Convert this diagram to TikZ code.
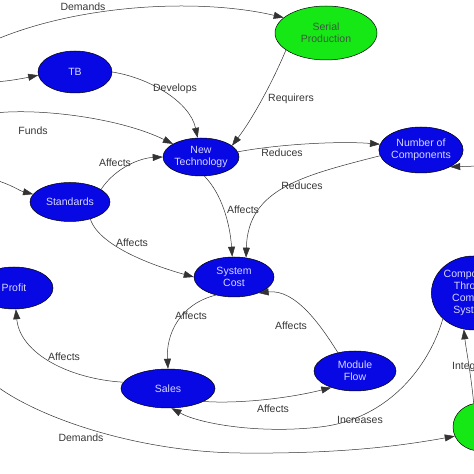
\documentclass[tikz,border=0pt]{standalone}
\usepackage{fontspec}
\setmainfont{Liberation Sans}
\usetikzlibrary{shapes.geometric,arrows.meta}
\definecolor{nblue}{RGB}{8,8,228}
\definecolor{ngreen}{RGB}{22,232,22}
\definecolor{ntext}{RGB}{215,215,255}
\definecolor{ltext}{RGB}{55,55,55}
\definecolor{gtext}{RGB}{60,90,60}
\newcommand{\nodefnt}{\fontsize{10.5}{12}\selectfont}
\newcommand{\labfnt}{\fontsize{10.5}{12}\selectfont}
\tikzset{
  bnode/.style={ellipse, draw=black, line width=0.5pt, fill=nblue, text=ntext, font=\nodefnt, align=center, inner sep=0pt},
  gnode/.style={ellipse, draw=black, line width=0.5pt, fill=ngreen, text=gtext, font=\nodefnt, align=center, inner sep=0pt},
  conn/.style={draw=black!80, line width=0.5pt, -{Triangle[length=10pt,width=7pt]}},
  lab/.style={font=\labfnt, text=ltext, inner sep=0pt}
}
\begin{document}
\begin{tikzpicture}[x=1pt,y=1pt]
\useasboundingbox (0,0) rectangle (474,474);
\clip (0,0) rectangle (474,474);
\fill[white] (0,0) rectangle (474,474);
% nodes
\node[gnode, minimum width=102pt, minimum height=54pt] (SP) at (326,441) {Serial\\Production};
\node[bnode, minimum width=74pt, minimum height=42pt] (TB) at (75,402) {TB};
\node[bnode, minimum width=76pt, minimum height=38pt] (NT) at (201,317) {New\\Technology};
\node[bnode, minimum width=82pt, minimum height=46pt] (NC) at (421,324) {Number of\\Components};
\node[bnode, minimum width=80pt, minimum height=39pt] (ST) at (70,272) {Standards};
\node[bnode, minimum width=80pt, minimum height=40pt] (SC) at (234,197) {System\\Cost};
\node[bnode, minimum width=78pt, minimum height=42pt] (PR) at (14,186) {Profit};
\node[bnode, minimum width=80pt, minimum height=74pt] (CT) at (473.5,181) {Components\\Through\\Common\\Systems};
\node[bnode, minimum width=94pt, minimum height=39pt] (SA) at (168,85.5) {Sales};
\node[bnode, minimum width=82pt, minimum height=40pt] (MF) at (355,103) {Module\\Flow};
\node[gnode, minimum width=54pt, minimum height=48pt] (GB) at (480,47) {};
% free ends
\coordinate (d1) at (-5,434);
\coordinate (d2) at (-5,392);
\coordinate (d5) at (-5,361);
\coordinate (d6) at (-5,294);
\coordinate (d12) at (480,308);
\coordinate (d18) at (-5,89);
% connectors
\draw[conn] (d1) .. controls (80,470) and (200,476) .. (SP.160);
\node[lab] (l1) at (83,467) {Demands};
\draw[conn] (d2) .. controls (10,393) and (25,396) .. (TB.185);
\draw[conn] (TB.east) .. controls (150,396) and (190,372) .. (NT.100);
\node[lab] (l3) at (175,385) {Develops};
\draw[conn] (SP.203) .. controls (276,400) and (256,360) .. (NT.20);
\node[lab] (l4) at (291,375) {Requirers};
\draw[conn] (d5) .. controls (40,366) and (120,356) .. (NT.155);
\node[lab] (l5) at (33,343) {Funds};
\draw[conn] (d6) .. controls (10,290) and (20,283) .. (ST.168);
\draw[conn] (ST.22) .. controls (115,306) and (140,316) .. (NT.west);
\node[lab] (l7) at (115,311) {Affects};
\draw[conn] (NT.8) .. controls (280,330) and (340,333) .. (NC.172);
\node[lab] (l8) at (282,321) {Reduces};
\draw[conn] (NC.188) .. controls (301,298) and (248,285) .. (SC.58);
\node[lab] (l9) at (302,288) {Reduces};
\draw[conn] (NT.-80) .. controls (222,280) and (230,250) .. (SC.95);
\node[lab] (l10) at (243,264) {Affects};
\draw[conn] (ST.-40) .. controls (100,225) and (165,205) .. (SC.west);
\node[lab] (l11) at (132,231) {Affects};
\draw[conn] (d12) -- (NC.-30);
\draw[conn] (SC.-135) .. controls (180,170) and (166,140) .. (SA.north);
\node[lab] (l13) at (191,158) {Affects};
\draw[conn] (MF.133) .. controls (320,150) and (295,185) .. (SC.-33);
\node[lab] (l14) at (291,148) {Affects};
\draw[conn] (SA.172) .. controls (70,95) and (20,120) .. (PR.-85);
\node[lab] (l15) at (64,117) {Affects};
\draw[conn] (SA.-20) .. controls (240,70) and (290,76) .. (MF.-145);
\node[lab] (l16) at (273,65) {Affects};
\draw[conn] (CT.-140) .. controls (430,110) and (390,55) .. (320,47) .. controls (260,40) and (200,50) .. (SA.-80);
\node[lab] (l17) at (360,54) {Increases};
\draw[conn] (d18) .. controls (40,55) and (140,22) .. (240,21) .. controls (340,20) and (400,28) .. (GB.200);
\node[lab] (l18) at (81,36) {Demands};
\draw[conn] (GB.105) .. controls (471,100) and (466,125) .. (CT.-105);
\node[lab, anchor=west] (l19) at (452,107) {Integrates};
\end{tikzpicture}
\end{document}
